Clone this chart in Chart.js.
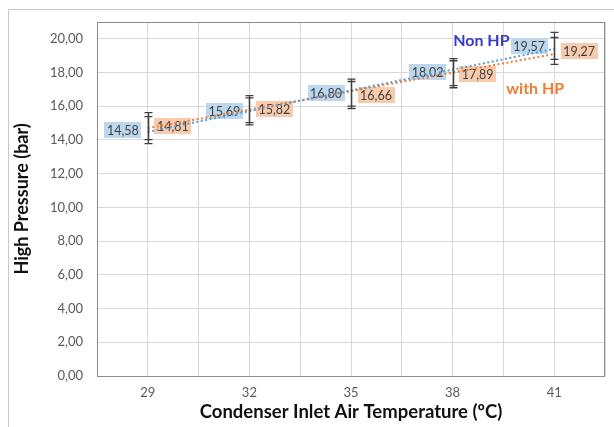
<!DOCTYPE html>
<html><head><meta charset="utf-8">
<script src="https://cdn.jsdelivr.net/npm/chart.js@4"></script>
<style>html,body{margin:0;padding:0;background:#fff;}#wrap{position:relative;width:614px;height:427px;}</style>
</head><body><div id="wrap"><canvas id="c" width="614" height="427"></canvas></div>
<script>
// ---- data ----
const temperatures = [29, 32, 35, 38, 41];
const xTickLabels = ['29', '32', '35', '38', '41'];
const nonHP = [14.58, 15.69, 16.80, 18.02, 19.57];
const withHP = [14.81, 15.82, 16.66, 17.89, 19.27];
const nonHPError = [0.8, 0.8, 0.8, 0.8, 0.8];
const withHPError = [0.8, 0.8, 0.8, 0.8, 0.8];
const yTickValues = [0, 2, 4, 6, 8, 10, 12, 14, 16, 18, 20];
const yTickLabels = ['0,00', '2,00', '4,00', '6,00', '8,00', '10,00', '12,00', '14,00', '16,00', '18,00', '20,00'];
const seriesNames = ['Non HP', 'with HP'];

// ---- styles ----
const BLUE = '#5B9BD5', ORANGE = '#ED7D31';
const FONT = 'Lato';

const pts = (ys) => temperatures.map((t, i) => ({ x: t, y: ys[i] }));
// Linear (least squares) trendline through each series, as in the original Excel chart
function trend(xs, ys) {
  const n = xs.length;
  const mx = xs.reduce((a, b) => a + b, 0) / n;
  const my = ys.reduce((a, b) => a + b, 0) / n;
  let sxy = 0, sxx = 0;
  for (let i = 0; i < n; i++) { sxy += (xs[i] - mx) * (ys[i] - my); sxx += (xs[i] - mx) ** 2; }
  const b = sxy / sxx, a = my - b * mx;
  return [{ x: xs[0], y: a + b * xs[0] }, { x: xs[n - 1], y: a + b * xs[n - 1] }];
}

const deco = {
  id: 'deco',
  beforeDraw(chart) {
    const ctx = chart.ctx;
    ctx.save();
    ctx.strokeStyle = '#C8C8C8'; ctx.lineWidth = 1;
    ctx.beginPath();
    ctx.moveTo(8.5, 427); ctx.lineTo(8.5, 9.5); ctx.lineTo(614, 9.5);
    ctx.stroke();
    ctx.restore();
  },
  beforeDatasetsDraw(chart) {
    const ctx = chart.ctx;
    ctx.save();
    ctx.font = '12.5px ' + FONT;
    ctx.textAlign = 'center'; ctx.textBaseline = 'middle';
    chart.data.datasets.forEach((ds, di) => {
      if (!ds.labelBg) return;
      const meta = chart.getDatasetMeta(di);
      meta.data.forEach((el, i) => {
        const txt = ds.data[i].y.toFixed(2).replace('.', ',');
        const w = ctx.measureText(txt).width + 5, h = 16;
        const cx = el.x + ds.labelSide * 25, cy = el.y;
        ctx.fillStyle = ds.labelBg;
        ctx.fillRect(Math.round(cx - w / 2), Math.round(cy - h / 2), Math.round(w), h);
        ctx.fillStyle = '#404040';
        ctx.fillText(txt, cx, cy + 1);
      });
    });
    ctx.restore();
  },
  afterDatasetsDraw(chart) {
    const ctx = chart.ctx, xs = chart.scales.x, ys = chart.scales.y, a = chart.chartArea;
    ctx.save();
    // error bars
    ctx.strokeStyle = '#404040'; ctx.lineWidth = 1.3;
    chart.data.datasets.forEach((ds) => {
      if (!ds.errors) return;
      ds.data.forEach((p, i) => {
        const x = Math.round(xs.getPixelForValue(p.x)) + 0.5;
        const yt = ys.getPixelForValue(p.y + ds.errors[i]);
        const yb = ys.getPixelForValue(p.y - ds.errors[i]);
        ctx.beginPath();
        ctx.moveTo(x, yt); ctx.lineTo(x, yb);
        ctx.moveTo(x - 4, yt); ctx.lineTo(x + 4, yt);
        ctx.moveTo(x - 4, yb); ctx.lineTo(x + 4, yb);
        ctx.stroke();
      });
    });
    // plot area border
    ctx.strokeStyle = '#8C8C8C'; ctx.lineWidth = 1;
    ctx.strokeRect(Math.round(a.left) + 0.5, Math.round(a.top) + 0.5, Math.round(a.right - a.left) - 1, Math.round(a.bottom - a.top));
    // series annotations
    ctx.font = 'bold 16px ' + FONT;
    ctx.textAlign = 'center'; ctx.textBaseline = 'middle';
    ctx.fillStyle = '#3B3BC4';
    ctx.fillText(seriesNames[0], xs.getPixelForValue(38.85), ys.getPixelForValue(19.88));
    ctx.fillStyle = ORANGE;
    ctx.fillText(seriesNames[1], xs.getPixelForValue(40.44), ys.getPixelForValue(17.05));
    ctx.restore();
  }
};

new Chart(document.getElementById('c'), {
  type: 'scatter',
  data: {
    datasets: [
      { label: seriesNames[0], data: pts(nonHP), errors: nonHPError, labelBg: '#BDD7EE', labelSide: -1, pointRadius: 0, showLine: false },
      { label: seriesNames[1], data: pts(withHP), errors: withHPError, labelBg: '#F8CBAD', labelSide: 1, pointRadius: 0, showLine: false },
      { label: seriesNames[0] + ' trend', data: trend(temperatures, nonHP), showLine: true, borderColor: BLUE, borderWidth: 2, borderDash: [2, 2.5], pointRadius: 0, fill: false },
      { label: seriesNames[1] + ' trend', data: trend(temperatures, withHP), showLine: true, borderColor: ORANGE, borderWidth: 2, borderDash: [2, 2.5], pointRadius: 0, fill: false }
    ]
  },
  options: {
    responsive: false, animation: false,
    layout: { padding: { top: 20, right: 8, left: 0, bottom: 0 } },
    plugins: { legend: { display: false }, tooltip: { enabled: false } },
    scales: {
      x: {
        type: 'linear', min: 27.5, max: 42.5,
        afterFit: (s) => { s.height = 51; },
        grid: { color: '#D9D9D9', drawTicks: false },
        border: { display: false },
        ticks: {
          stepSize: 1.5, autoSkip: false, maxRotation: 0, padding: 9,
          color: '#595959', font: { family: FONT, size: 13 },
          callback: (v) => { const i = temperatures.indexOf(v); return i >= 0 ? xTickLabels[i] : ''; }
        },
        title: { display: true, text: 'Condenser Inlet Air Temperature (ºC)', color: '#111', font: { family: FONT, size: 18.5, weight: 'bold' }, padding: { top: 0, bottom: 4 } }
      },
      y: {
        min: 0, max: 21,
        afterFit: (s) => { s.width = 97; },
        grid: { color: '#D9D9D9', drawTicks: false },
        border: { display: false },
        ticks: {
          stepSize: 2, includeBounds: false, padding: 14,
          color: '#595959', font: { family: FONT, size: 13 },
          callback: (v) => { const i = yTickValues.indexOf(v); return i >= 0 ? yTickLabels[i] : ''; }
        },
        title: { display: true, text: 'High Pressure (bar)', color: '#111', font: { family: FONT, size: 18, weight: 'bold' }, padding: { top: 11, bottom: 0 } }
      }
    }
  },
  plugins: [deco]
});
</script>
</body></html>
